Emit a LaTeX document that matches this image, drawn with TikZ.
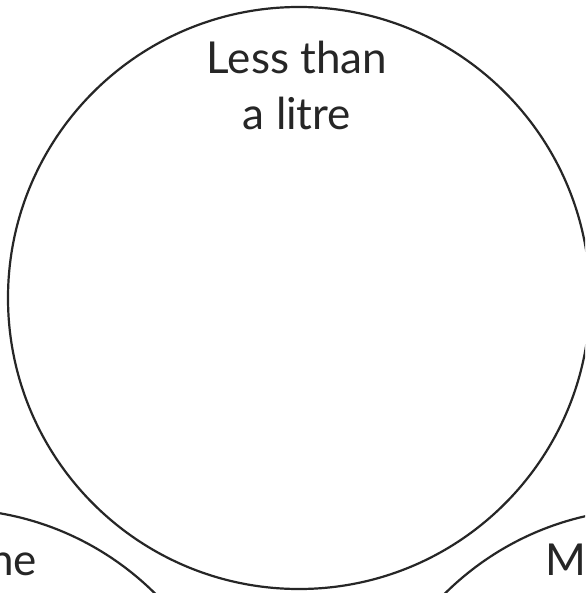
\documentclass[tikz,border=0pt]{standalone}
\usepackage{fontspec}
\setmainfont{Lato}
\begin{document}
\begin{tikzpicture}[x=1pt,y=-1pt,
  ring/.style={circle,draw=black!85,line width=2.2pt,minimum size=582pt,inner sep=0pt},
  lbl/.style={font=\fontsize{44}{56}\selectfont,text=black!85,inner sep=0pt}]
\useasboundingbox (0,0) rectangle (585,593);
\clip (0,0) rectangle (585,593);
\fill[white] (0,0) rectangle (585,593);
\node[ring] (top) at (299,298) {};
\node[ring] (left) at (-50,800) {};
\node[ring] (right) at (650,800) {};
\node[lbl,anchor=base] (t1) at (297,74) {Less than};
\node[lbl,anchor=base] (t2) at (297,130) {a litre};
\node[lbl,anchor=base east] (lt) at (37,575) {ne};
\node[lbl,anchor=base west] (rt) at (545,575) {M};
\end{tikzpicture}
\end{document}
